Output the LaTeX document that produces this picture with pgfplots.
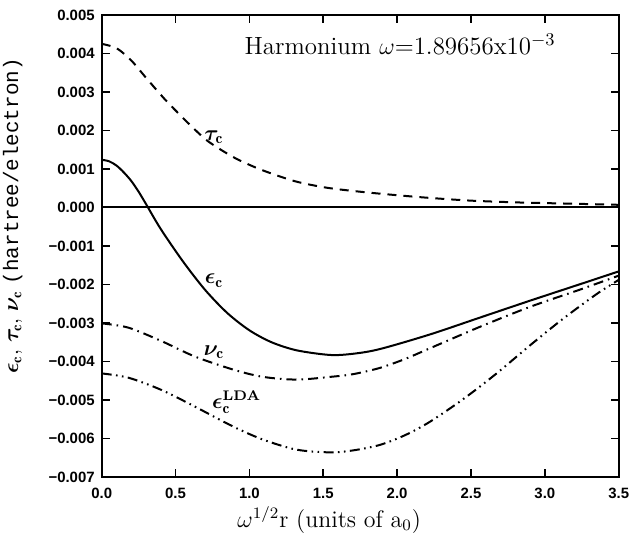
\documentclass[border=0pt]{standalone}
\usepackage{pgfplots}
\pgfplotsset{compat=1.18}
\usepackage{bm}
\usepackage{fontspec}
\newfontfamily\tickfont{Liberation Sans}
\newfontfamily\monofont{Liberation Mono}
\begin{document}
\begin{tikzpicture}
\useasboundingbox (-50.85bp,-30.5bp) rectangle (270.15bp,238.5bp);
\begin{axis}[
  scale only axis,
  width=258.5bp, height=231bp,
  xmin=0, xmax=3.5, ymin=-0.007, ymax=0.005,
  axis line style={line width=1bp},
  tick style={line width=0.8bp, black},
  major tick length=4bp,
  tick align=inside,
  xtick={0,0.5,1,1.5,2,2.5,3,3.5},
  xticklabels={0.0,0.5,1.0,1.5,2.0,2.5,3.0,3.5},
  ytick={-0.007,-0.006,-0.005,-0.004,-0.003,-0.002,-0.001,0,0.001,0.002,0.003,0.004,0.005},
  yticklabels={−0.007,−0.006,−0.005,−0.004,−0.003,−0.002,−0.001,0.000,0.001,0.002,0.003,0.004,0.005},
  scaled y ticks=false, scaled x ticks=false,
  ticklabel style={font=\tickfont\bfseries\fontsize{7.5}{8}\selectfont},
  xticklabel style={yshift=-2bp},
  xlabel={$\omega^{1/2}$r (units of a$_0$)},
  xlabel style={font=\fontsize{12}{13}\selectfont, at={(axis description cs:0.44,-0.093)}, anchor=center},
  ylabel={$\bm{\epsilon_{\mathrm{c}}}$, $\bm{\tau_{\mathrm{c}}}$, $\bm{\nu_{\mathrm{c}}}$ \monofont(hartree/electron)},
  ylabel style={font=\fontsize{10.5}{12}\selectfont, at={(axis description cs:-0.172,0.565)}, anchor=center, rotate=0},
  clip=false,
]
\addplot[black, line width=1bp, forget plot] coordinates {(0,0) (3.5,0)};
% tau_c
\addplot[black, line width=1bp, smooth, tension=0.45, dash pattern=on 4.5bp off 3.5bp] coordinates {
(0,0.00425) (0.1,0.00414) (0.2,0.00382) (0.3,0.00337) (0.43,0.00280) (0.586,0.00219) (0.72,0.00172) (0.90,0.00129) (1.08,0.00098) (1.31,0.00068) (1.53,0.00051) (1.80,0.00039) (2.15,0.00027) (2.49,0.00018) (2.83,0.00013) (3.17,0.00010) (3.5,0.00007)};
% eps_c
\addplot[black, line width=1bp, smooth, tension=0.5] coordinates {
(0,0.00124) (0.05,0.00120) (0.1,0.00109) (0.15,0.00091) (0.2,0.00069) (0.25,0.00041) (0.3,0.00009) (0.4,-0.00056) (0.55,-0.00140) (0.7,-0.00214) (0.85,-0.00274) (1.0,-0.00319) (1.15,-0.00350) (1.32,-0.00371) (1.545,-0.00383) (1.7,-0.00380) (1.88,-0.00368) (2.22,-0.00330) (2.56,-0.00286) (2.90,-0.00242) (3.24,-0.00199) (3.5,-0.00166)};
% nu_c
\addplot[black, line width=1bp, smooth, tension=0.5, dash pattern=on 5bp off 2.5bp on 0.8bp off 2.5bp] coordinates {
(0,-0.00301) (0.18,-0.00312) (0.405,-0.00347) (0.63,-0.00387) (0.89,-0.00421) (1.093,-0.00440) (1.32,-0.00447) (1.545,-0.00440) (1.7,-0.00433) (1.88,-0.00417) (2.05,-0.00394) (2.22,-0.00366) (2.56,-0.00310) (2.90,-0.00258) (3.24,-0.00213) (3.5,-0.00177)};
% eps_c LDA
\addplot[black, line width=1bp, smooth, tension=0.5, dash pattern=on 5bp off 2.2bp on 0.8bp off 2.2bp on 0.8bp off 2.2bp] coordinates {
(0,-0.00431) (0.18,-0.00442) (0.405,-0.00474) (0.63,-0.00517) (0.89,-0.00569) (1.093,-0.00603) (1.32,-0.00629) (1.545,-0.00636) (1.7,-0.00631) (1.88,-0.00617) (2.05,-0.00592) (2.22,-0.00557) (2.45,-0.00497) (2.67,-0.00432) (2.90,-0.00358) (3.12,-0.00290) (3.35,-0.00225) (3.5,-0.00188)};
\node[font=\fontsize{12.5}{14}\selectfont] at (axis cs:2.02,0.00423) {Harmonium $\omega$=1.89656x10$^{-3}$};
\node[font=\fontsize{11}{12}\selectfont] at (axis cs:0.76,0.00183) {$\bm{\tau_{\mathrm{c}}}$};
\node[font=\fontsize{11}{12}\selectfont] at (axis cs:0.76,-0.00190) {$\bm{\epsilon_{\mathrm{c}}}$};
\node[font=\fontsize{11}{12}\selectfont] at (axis cs:0.76,-0.00375) {$\bm{\nu_{\mathrm{c}}}$};
\node[font=\fontsize{11}{12}\selectfont, anchor=west] at (axis cs:0.70,-0.00505) {$\bm{\epsilon_{\mathrm{c}}}^{\textbf{\fontsize{7}{8}\selectfont LDA}}$};
\end{axis}
\end{tikzpicture}
\end{document}
